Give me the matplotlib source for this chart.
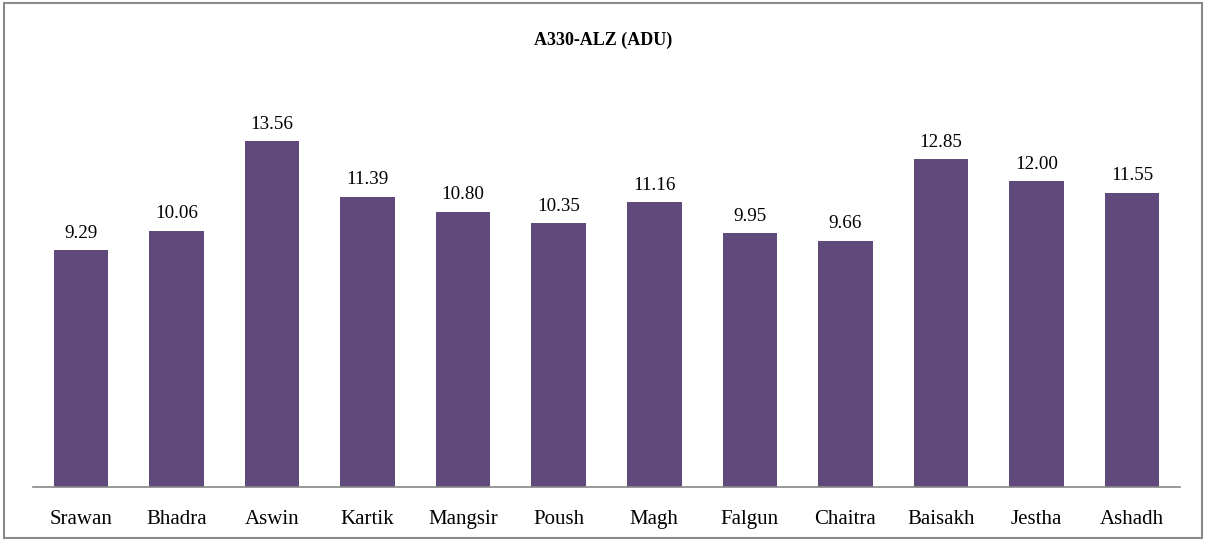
import matplotlib.pyplot as plt
from matplotlib.patches import Rectangle

months = ["Srawan", "Bhadra", "Aswin", "Kartik", "Mangsir", "Poush",
          "Magh", "Falgun", "Chaitra", "Baisakh", "Jestha", "Ashadh"]
adu = [9.29, 10.06, 13.56, 11.39, 10.80, 10.35, 11.16, 9.95, 9.66, 12.85, 12.00, 11.55]

plt.rcParams['font.family'] = ['Liberation Serif', 'DejaVu Serif']

fig = plt.figure(figsize=(12.06, 5.41), dpi=100)
ax = fig.add_axes([0.0274, 0.0998, 0.951, 0.754])

x = range(len(months))
bars = ax.bar(x, adu, width=0.57, color="#604A7B")
for xi, v in zip(x, adu):
    ax.annotate(f"{v:.2f}", (xi, v), xytext=(0, 6), textcoords="offset points",
                ha="center", va="bottom", fontsize=13.7)

ax.set_xlim(-0.5, len(months) - 0.5)
ax.set_ylim(0, 16)
ax.set_xticks(list(x))
ax.set_xticklabels(months, fontsize=15)
ax.tick_params(axis="x", length=0, pad=16.5)
ax.set_yticks([])
for s in ["top", "right", "left"]:
    ax.spines[s].set_visible(False)
ax.spines["bottom"].set_color("#888888")
ax.spines["bottom"].set_linewidth(1.2)

fig.text(0.5, 1 - 40 / 541, "A330-ALZ (ADU)", ha="center", va="center",
         fontsize=13, fontweight="bold")

fig.patches.append(Rectangle((0.003, 0.006), 0.994, 0.988, transform=fig.transFigure,
                             fill=False, edgecolor="#8a8a8a", linewidth=1.5))

fig.savefig("out.png", dpi=100)
